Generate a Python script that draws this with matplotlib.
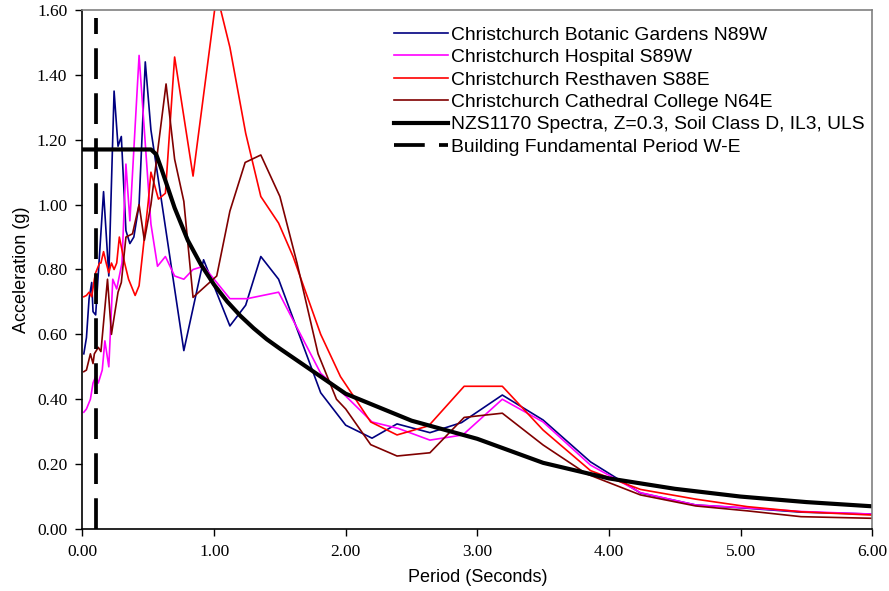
import matplotlib.pyplot as plt
from matplotlib.ticker import FormatStrFormatter

# Period (s) and spectral acceleration (g)
botanic_t = [0.01, 0.03, 0.05, 0.07, 0.08, 0.10, 0.16, 0.20, 0.24, 0.27, 0.295, 0.33, 0.36, 0.39,
             0.43, 0.477, 0.52, 0.77, 0.92, 1.12, 1.24, 1.355, 1.49, 1.81, 2.0, 2.2, 2.39, 2.64,
             2.88, 3.19, 3.5, 3.86, 4.24, 4.66, 5.05, 5.46, 6.0]
botanic_a = [0.54, 0.59, 0.71, 0.76, 0.67, 0.66, 1.04, 0.78, 1.35, 1.18, 1.21, 0.92, 0.88, 0.90,
             1.00, 1.44, 1.23, 0.55, 0.83, 0.626, 0.69, 0.84, 0.77, 0.42, 0.32, 0.28, 0.324, 0.297,
             0.328, 0.413, 0.336, 0.207, 0.111, 0.074, 0.064, 0.052, 0.046]

hospital_t = [0.01, 0.03, 0.06, 0.08, 0.10, 0.12, 0.15, 0.17, 0.20, 0.23, 0.26, 0.30, 0.33, 0.36,
              0.43, 0.52, 0.57, 0.63, 0.70, 0.77, 0.84, 0.92, 1.12, 1.25, 1.49, 1.81, 2.0, 2.2,
              2.4, 2.64, 2.89, 3.19, 3.5, 3.86, 4.24, 4.66, 5.05, 5.46, 6.0]
hospital_a = [0.36, 0.37, 0.40, 0.45, 0.47, 0.45, 0.49, 0.58, 0.50, 0.77, 0.74, 0.82, 1.125, 0.95,
              1.46, 0.94, 0.81, 0.84, 0.78, 0.77, 0.80, 0.81, 0.71, 0.71, 0.73, 0.48, 0.41, 0.33,
              0.31, 0.274, 0.29, 0.40, 0.33, 0.197, 0.112, 0.074, 0.065, 0.054, 0.046]

resthaven_t = [0.01, 0.03, 0.05, 0.07, 0.09, 0.10, 0.13, 0.14, 0.16, 0.18, 0.20, 0.22, 0.24, 0.26,
               0.28, 0.32, 0.35, 0.40, 0.43, 0.50, 0.52, 0.577, 0.63, 0.70, 0.84, 1.02, 1.12, 1.24,
               1.355, 1.49, 1.60, 1.81, 1.96, 2.19, 2.39, 2.63, 2.90, 3.19, 3.50, 3.86, 4.24, 4.66,
               5.05, 5.46, 6.0]
resthaven_a = [0.716, 0.72, 0.73, 0.716, 0.77, 0.79, 0.82, 0.82, 0.855, 0.82, 0.79, 0.82, 0.80, 0.82,
               0.90, 0.82, 0.77, 0.72, 0.75, 1.01, 1.10, 1.017, 1.035, 1.455, 1.088, 1.65, 1.485, 1.22,
               1.025, 0.943, 0.84, 0.60, 0.47, 0.33, 0.29, 0.318, 0.44, 0.44, 0.305, 0.18, 0.122, 0.092,
               0.069, 0.053, 0.043]

cathedral_t = [0.01, 0.03, 0.06, 0.08, 0.09, 0.12, 0.14, 0.19, 0.22, 0.27, 0.295, 0.33, 0.38, 0.43,
               0.47, 0.52, 0.635, 0.70, 0.77, 0.84, 1.02, 1.12, 1.236, 1.355, 1.50, 1.63, 1.79, 1.93,
               2.0, 2.19, 2.39, 2.64, 2.90, 3.19, 3.50, 3.83, 4.24, 4.66, 5.05, 5.46, 6.0]
cathedral_a = [0.485, 0.49, 0.54, 0.51, 0.54, 0.56, 0.547, 0.77, 0.60, 0.73, 0.76, 0.90, 0.91, 1.00,
               0.89, 1.00, 1.372, 1.14, 1.01, 0.714, 0.78, 0.98, 1.13, 1.153, 1.025, 0.82, 0.54, 0.40,
               0.37, 0.26, 0.225, 0.235, 0.344, 0.357, 0.259, 0.17, 0.105, 0.071, 0.056, 0.038, 0.033]

nzs_t = [0.0, 0.52, 0.56, 0.6, 0.7, 0.8, 0.9, 1.0, 1.1, 1.2, 1.3, 1.4, 1.5, 2.0, 2.5, 3.0, 3.5,
         4.0, 4.5, 5.0, 5.5, 6.0]
nzs_a = [1.17, 1.17, 1.155, 1.11, 0.99, 0.89, 0.815, 0.753, 0.701, 0.657, 0.619, 0.585, 0.556,
         0.417, 0.334, 0.278, 0.204, 0.156, 0.124, 0.100, 0.083, 0.070]

building_t = [0.10, 0.10]
building_a = [0.0, 1.575]

labels = ["Christchurch Botanic Gardens N89W",
          "Christchurch Hospital S89W",
          "Christchurch Resthaven S88E",
          "Christchurch Cathedral College N64E",
          "NZS1170 Spectra, Z=0.3, Soil Class D, IL3, ULS",
          "Building Fundamental Period W-E"]

sans = "Liberation Sans"
serif = "Liberation Serif"

fig = plt.figure(figsize=(8.89, 5.91), dpi=100)
ax = fig.add_axes([0.0928, 0.1049, 0.8882, 0.8782])

ax.plot(botanic_t, botanic_a, color="#000080", lw=1.2, label=labels[0])
ax.plot(hospital_t, hospital_a, color="#FF00FF", lw=1.2, label=labels[1])
ax.plot(resthaven_t, resthaven_a, color="#FF0000", lw=1.2, label=labels[2])
ax.plot(cathedral_t, cathedral_a, color="#800000", lw=1.2, label=labels[3])
ax.plot(nzs_t, nzs_a, color="black", lw=3.0, label=labels[4])
ax.plot(building_t, building_a, color="black", lw=2.7, dashes=(8.2, 3.8), label=labels[5])

ax.set_xlim(0, 6)
ax.set_ylim(0, 1.6)
ax.set_xticks([0, 1, 2, 3, 4, 5, 6])
ax.set_yticks([0, 0.2, 0.4, 0.6, 0.8, 1.0, 1.2, 1.4, 1.6])
ax.xaxis.set_major_formatter(FormatStrFormatter("%.2f"))
ax.yaxis.set_major_formatter(FormatStrFormatter("%.2f"))
ax.tick_params(direction="out", length=5, width=1, labelsize=12.5, pad=6)
for lab in ax.get_xticklabels() + ax.get_yticklabels():
    lab.set_fontfamily(serif)

ax.spines["left"].set_color("black")
ax.spines["bottom"].set_color("black")
ax.spines["top"].set_color("#808080")
ax.spines["right"].set_color("#808080")
for s in ax.spines.values():
    s.set_linewidth(1.2)

ax.set_xlabel("Period (Seconds)", family=sans, fontsize=13, labelpad=6)
ax.set_ylabel("Acceleration (g)", family=sans, fontsize=13, labelpad=5)

ax.legend(loc="upper left", bbox_to_anchor=(0.382, 0.987), frameon=False,
          prop={"family": sans, "size": 13.9}, borderpad=0, handlelength=2.8,
          handletextpad=0.15, labelspacing=0.25)

fig.savefig("out.png", dpi=100)
